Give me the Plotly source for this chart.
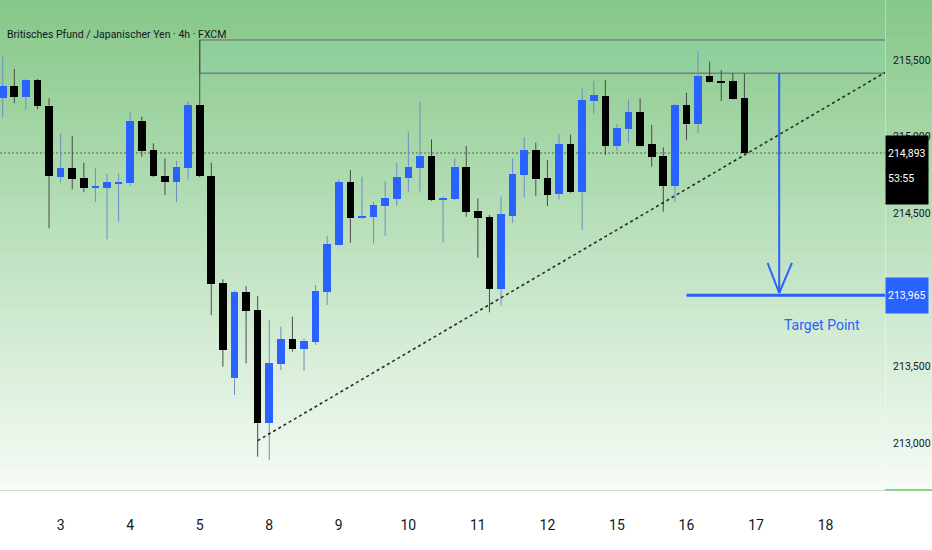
"""
GBP/JPY 4h candles (FXCM) with a resistance zone, a rising dotted trend line
and a short target marked at 213,965 — TradingView-style screenshot redo.
"""

import plotly.graph_objects as go

# 4h bars; x is just the bar number.
OPEN = [215.254, 215.330, 215.260, 215.369, 215.202, 214.738, 214.793, 214.728, 214.667, 214.667,
        214.693, 214.695, 215.104, 214.913, 214.745, 214.704, 214.797, 215.206, 214.743, 214.043,
        213.423, 213.988, 213.869, 213.130, 213.515, 213.678, 213.614, 213.662, 213.988, 214.293,
        214.702, 214.474, 214.477, 214.547, 214.593, 214.728, 214.793, 214.875, 214.591, 214.593,
        214.804, 214.517, 214.474, 214.006, 214.484, 214.750, 214.913, 214.728, 214.624, 214.950,
        214.641, 215.234, 215.267, 214.941, 215.050, 215.158, 214.950, 214.875, 214.678, 215.204,
        215.080, 215.395, 215.361, 215.361, 215.250]
HIGH = [215.521, 215.441, 215.376, 215.376, 215.250, 215.021, 215.004, 214.830, 214.793, 214.756,
        214.761, 215.158, 215.130, 214.956, 214.858, 214.841, 215.232, 215.630, 214.830, 214.069,
        213.995, 214.025, 213.960, 213.804, 213.760, 213.825, 213.684, 214.032, 214.352, 214.721,
        214.782, 214.738, 214.575, 214.710, 214.830, 215.032, 215.228, 214.982, 214.608, 214.858,
        214.939, 214.597, 214.489, 214.608, 214.858, 214.995, 214.960, 214.847, 215.017, 215.014,
        215.315, 215.363, 215.369, 215.082, 215.243, 215.250, 215.076, 214.930, 215.217, 215.286,
        215.560, 215.489, 215.434, 215.413, 215.413]
LOW = [215.126, 215.217, 215.173, 215.180, 214.402, 214.699, 214.656, 214.637, 214.575, 214.330,
       214.445, 214.680, 214.869, 214.736, 214.619, 214.575, 214.721, 214.736, 213.836, 213.499,
       213.314, 213.521, 212.912, 212.890, 213.477, 213.597, 213.473, 213.641, 213.902, 214.290,
       214.308, 214.461, 214.304, 214.354, 214.549, 214.641, 214.641, 214.580, 214.308, 214.586,
       214.477, 214.210, 213.854, 213.897, 214.438, 214.604, 214.612, 214.547, 214.591, 214.630,
       214.391, 215.147, 214.880, 214.906, 214.960, 214.935, 214.804, 214.510, 214.575, 214.978,
       215.021, 215.350, 215.232, 215.239, 214.885]
CLOSE = [215.330, 215.260, 215.369, 215.200, 214.745, 214.793, 214.723, 214.667, 214.678, 214.702,
         214.706, 215.104, 214.906, 214.743, 214.704, 214.804, 215.206, 214.743, 214.037, 213.608,
         213.988, 213.862, 213.130, 213.521, 213.678, 213.612, 213.669, 213.995, 214.299, 214.702,
         214.467, 214.482, 214.554, 214.601, 214.738, 214.804, 214.875, 214.586, 214.601, 214.804,
         214.510, 214.467, 214.006, 214.493, 214.756, 214.913, 214.721, 214.619, 214.950, 214.637,
         215.239, 215.269, 214.941, 215.058, 215.158, 214.941, 214.869, 214.678, 215.206, 215.080,
         215.395, 215.354, 215.352, 215.243, 214.893]

# first bar of each trading day -> day-of-month label
DAY_TICKS = [5, 11, 17, 23, 29, 35, 41, 47, 53, 59, 65, 71]
DAY_LABELS = ["3", "4", "5", "8", "9", "10", "11", "12", "15", "16", "17", "18"]
# 214,000 sits under the target label on the price scale, so it is not shown
PRICE_TICKS = [213.0, 213.5, 214.5, 215.0, 215.5]

# drawings
ZONE_X0 = 17
ZONE_LOW, ZONE_HIGH = 215.413, 215.630
TREND_X = [22, 78]
TREND_Y = [213.017, 215.501]
TARGET = 213.965
TARGET_X0 = 59
ARROW_X = 67
ARROW_TOP = 215.413
ARROW_HEAD = 214.177
TARGET_TEXT_X, TARGET_TEXT_Y = 67.25, 213.771
COUNTDOWN = "53:55"
TITLE = "Britisches Pfund / Japanischer Yen · 4h · FXCM"

X_RANGE = [-0.233, 76.13]
Y_RANGE = [212.695, 215.891]

BLUE = "#2962ff"
BLACK = "#000000"
BLUE_WICK = "#6f8cc4"
BLACK_WICK = "#4a4a4a"
INK = "#131722"
FONT = "Roboto, Liberation Sans, sans-serif"
BG_TOP = (134, 200, 137)
BG_BOTTOM = (245, 251, 245)


def fmt(p: float) -> str:
    return f"{p:.3f}".replace(".", ",")


def main() -> None:
    n = len(OPEN)
    idx = list(range(n))
    up = [c >= o for o, c in zip(OPEN, CLOSE)]
    body_lo = [min(o, c) for o, c in zip(OPEN, CLOSE)]
    body_hi = [max(o, c) for o, c in zip(OPEN, CLOSE)]
    body_h = [max(h - l, 0.008) for h, l in zip(body_hi, body_lo)]

    fig = go.Figure()

    # wicks drawn as two pieces (above / below the body) so they never cross it
    for is_up, colour in ((True, BLUE_WICK), (False, BLACK_WICK)):
        xs, ys = [], []
        for i in idx:
            if up[i] != is_up:
                continue
            xs += [i, i, None, i, i, None]
            ys += [HIGH[i], body_hi[i], None, body_lo[i], LOW[i], None]
        fig.add_trace(go.Scatter(
            x=xs, y=ys, mode="lines",
            line=dict(color=colour, width=1),
            hoverinfo="skip", showlegend=False,
        ))

    fig.add_trace(go.Bar(
        x=idx, y=body_h, base=body_lo, width=0.66,
        marker=dict(color=[BLUE if u else BLACK for u in up], line=dict(width=0)),
        customdata=list(zip(OPEN, HIGH, LOW, CLOSE)),
        hovertemplate="O %{customdata[0]:.3f}  H %{customdata[1]:.3f}<br>"
                      "L %{customdata[2]:.3f}  C %{customdata[3]:.3f}<extra></extra>",
        showlegend=False,
    ))

    # rising support line
    fig.add_trace(go.Scatter(
        x=TREND_X, y=TREND_Y, mode="lines",
        line=dict(color="#2b2b2b", width=1.6, dash="3px,3px"),
        hoverinfo="skip", showlegend=False,
    ))

    # background: vertical green -> white fade over plot + price scale
    bands = 70
    for k in range(bands):
        t = k / (bands - 1)
        r, g, b = (round(BG_TOP[j] + (BG_BOTTOM[j] - BG_TOP[j]) * t) for j in range(3))
        fig.add_shape(type="rect", xref="paper", yref="paper",
                      x0=0, x1=932 / 885, y0=1 - (k + 1) / bands - 0.002, y1=1 - k / bands,
                      fillcolor=f"rgb({r},{g},{b})", line_width=0, layer="below")

    # resistance zone
    fig.add_shape(type="rect", x0=ZONE_X0, x1=X_RANGE[1] + 2, y0=ZONE_LOW, y1=ZONE_HIGH,
                  fillcolor="rgba(140,215,175,0.35)", line=dict(color="#7d7f7d", width=1.5),
                  layer="below")

    # last price line
    last = CLOSE[-1]
    fig.add_shape(type="line", xref="paper", x0=0, x1=1, y0=last, y1=last,
                  line=dict(color="#555d55", width=1, dash="2px,2px"), layer="below")

    # target: arrow + level
    fig.add_shape(type="line", x0=ARROW_X, x1=ARROW_X, y0=ARROW_TOP, y1=TARGET + 0.015,
                  line=dict(color=BLUE, width=2))
    fig.add_shape(type="line", x0=ARROW_X - 1.0, x1=ARROW_X, y0=ARROW_HEAD, y1=TARGET + 0.015,
                  line=dict(color=BLUE, width=2))
    fig.add_shape(type="line", x0=ARROW_X + 1.1, x1=ARROW_X, y0=ARROW_HEAD, y1=TARGET + 0.015,
                  line=dict(color=BLUE, width=2))
    fig.add_shape(type="line", x0=TARGET_X0, x1=X_RANGE[1] + 2, y0=TARGET, y1=TARGET,
                  line=dict(color=BLUE, width=3))
    fig.add_shape(type="line", xref="paper", yref="paper", x0=1, x1=932 / 885, y0=0, y1=0,
                  line=dict(color="#8fd18f", width=2))

    fig.add_annotation(x=TARGET_TEXT_X, y=TARGET_TEXT_Y, text="Target Point", showarrow=False,
                       xanchor="left", yanchor="middle",
                       font=dict(family=FONT, size=14, color=BLUE))

    fig.add_annotation(xref="paper", yref="paper", x=0.006, y=1 - 35 / 490, text=TITLE,
                       showarrow=False, xanchor="left", yanchor="middle",
                       font=dict(family=FONT, size=10.5, color=INK))

    # price-scale labels: last price (with bar countdown underneath) and target
    fig.add_annotation(xref="paper", x=1, y=last, xanchor="left", yanchor="middle",
                       text=fmt(last), showarrow=False, align="left", valign="middle",
                       width=38, height=30, borderpad=2, bgcolor=BLACK,
                       font=dict(family=FONT, size=10.5, color="#ffffff"))
    fig.add_annotation(xref="paper", x=1, y=last, yshift=-16, xanchor="left", yanchor="top",
                       text=COUNTDOWN, showarrow=False, align="left", valign="top",
                       width=38, height=30, borderpad=2, bgcolor=BLACK,
                       font=dict(family=FONT, size=10.5, color="#ffffff"))
    fig.add_annotation(xref="paper", x=1, y=TARGET, xanchor="left", yanchor="middle",
                       text=fmt(TARGET), showarrow=False, align="left",
                       width=38, height=31, borderpad=2, bgcolor=BLUE,
                       font=dict(family=FONT, size=10.5, color="#ffffff"))

    fig.update_layout(
        width=932, height=550,
        margin=dict(l=0, r=47, t=0, b=60),
        paper_bgcolor="#ffffff", plot_bgcolor="rgba(0,0,0,0)",
        separators=",.",
        font=dict(family=FONT, color=INK),
        bargap=0,
        xaxis=dict(range=X_RANGE, tickvals=DAY_TICKS, ticktext=DAY_LABELS,
                   showgrid=False, zeroline=False, ticks="",
                   showline=True, linecolor="#d5dad5", linewidth=1,
                   tickfont=dict(size=14, color=INK), ticklabelstandoff=22),
        yaxis=dict(range=Y_RANGE, side="right", tickvals=PRICE_TICKS, tickformat=".3f",
                   showgrid=False, zeroline=False, ticks="",
                   showline=True, linecolor="rgba(255,255,255,0.35)",
                   tickfont=dict(size=10.5, color=INK), ticklabelstandoff=5),
        hovermode="closest",
    )

    # page body has an 8px default margin; drop it so the chart sits flush
    fig.write_html("out.html", config={"displayModeBar": False},
                   post_script="document.body.style.margin = '0';")


if __name__ == "__main__":
    main()
